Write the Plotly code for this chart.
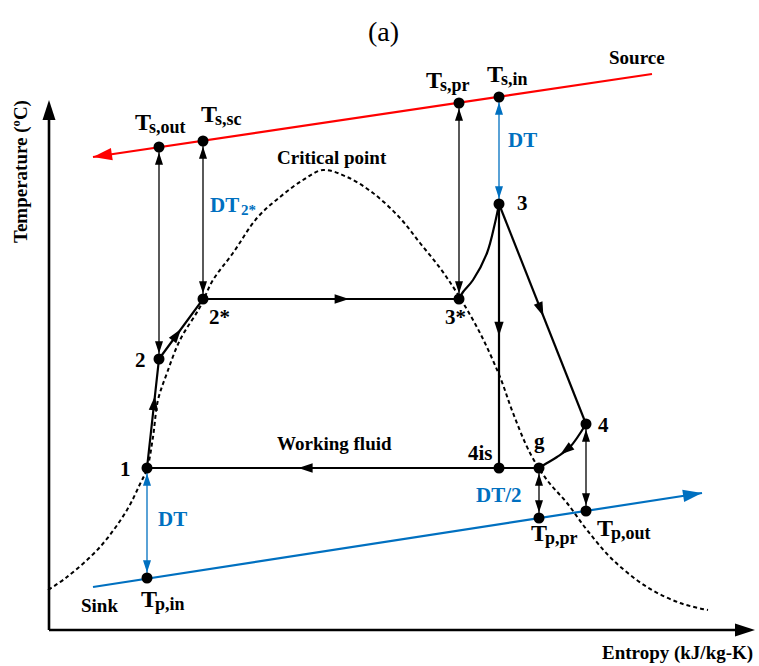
import math
import plotly.graph_objects as go

FONT = "Liberation Serif, Times New Roman, serif"
BLUE = "#0070C0"
RED = "#FF0000"
BLACK = "#000000"

# ---- working-fluid state points (schematic s / T units) ----
state_label = ["1", "2", "2*", "3*", "3", "4", "g", "4is"]
state_s = [147, 159, 203, 459, 499, 586, 539, 499]
state_T = [198, 307, 367, 367, 462, 242, 198, 198]

# ---- heat-source stream, flowing from right to left ----
source_label = ["Ts,out", "Ts,sc", "Ts,pr", "Ts,in"]
source_s = [159, 203, 459, 499]
source_T = [519, 525, 563, 569]
source_line_s = [652, 93]
source_line_T = [592, 509]

# ---- heat-sink stream, flowing from left to right ----
sink_label = ["Tp,in", "Tp,pr", "Tp,out"]
sink_s = [147, 539, 586]
sink_T = [88, 148, 155]
sink_line_s = [93, 702]
sink_line_T = [79, 173]

# ---- saturation dome ----
dome_s = [48, 67, 100, 127, 140, 147, 153, 158, 167, 180, 200, 213, 233, 257,
          280, 303, 323, 347, 373, 400, 420, 440, 457, 480, 500, 513, 530,
          547, 567, 587, 613, 647, 680, 708]
dome_T = [76, 89, 119, 156, 182, 197, 229, 266, 293, 326, 359, 386, 413, 448,
          469, 486, 496, 489, 473, 448, 423, 398, 373, 333, 289, 253, 213,
          186, 163, 136, 106, 79, 63, 56]

# ---- curved process paths ----
superheat_s = [459, 463, 473, 487, 495, 499]      # 3* -> 3
superheat_T = [367, 374, 386, 413, 443, 462]
desuperheat_s = [586, 570, 557, 547, 539]         # 4 -> g
desuperheat_T = [242, 219, 209, 203, 198]

# ---- axes frame ----
axis_origin = (49, 36)
axis_s_end = 755
axis_T_end = 566

st = {n: (s, t) for n, s, t in zip(state_label, state_s, state_T)}
so = {n: (s, t) for n, s, t in zip(source_label, source_s, source_T)}
si = {n: (s, t) for n, s, t in zip(sink_label, sink_s, sink_T)}

fig = go.Figure()


def line(xs, ys, color=BLACK, width=2.2, dash=None, shape="linear"):
    fig.add_trace(go.Scatter(x=xs, y=ys, mode="lines", hoverinfo="skip",
                             line=dict(color=color, width=width, dash=dash,
                                       shape=shape)))


def arrow(tip, direction, color=BLACK, size=15):
    ang = math.degrees(math.atan2(direction[0], direction[1]))
    fig.add_trace(go.Scatter(x=[tip[0]], y=[tip[1]], mode="markers",
                             hoverinfo="skip",
                             marker=dict(symbol="arrow", size=size, angle=ang,
                                         color=color, line=dict(width=0))))


def seg_arrow(a, b, frac, color=BLACK, size=15):
    tip = (a[0] + (b[0] - a[0]) * frac, a[1] + (b[1] - a[1]) * frac)
    arrow(tip, (b[0] - a[0], b[1] - a[1]), color, size)


def double_arrow(a, b, color=BLACK, width=1.3, size=13, gap=5.5):
    line([a[0], b[0]], [a[1], b[1]], color=color, width=width)
    dx, dy = b[0] - a[0], b[1] - a[1]
    n = math.hypot(dx, dy)
    ux, uy = dx / n, dy / n
    arrow((b[0] - ux * gap, b[1] - uy * gap), (ux, uy), color, size)
    arrow((a[0] + ux * gap, a[1] + uy * gap), (-ux, -uy), color, size)


# saturation dome
line(dome_s, dome_T, width=2, dash="4px,3px", shape="spline")

# axes
line([axis_origin[0], axis_s_end - 8], [axis_origin[1], axis_origin[1]], width=2.6)
line([axis_origin[0], axis_origin[0]], [axis_origin[1], axis_T_end - 8], width=2.6)
arrow((axis_s_end, axis_origin[1]), (1, 0), size=21)
arrow((axis_origin[0], axis_T_end), (0, 1), size=21)

# source and sink streams
line(source_line_s, source_line_T, color=RED, width=2.2)
arrow((source_line_s[1], source_line_T[1]),
      (source_line_s[1] - source_line_s[0], source_line_T[1] - source_line_T[0]),
      color=RED, size=20)
line(sink_line_s, sink_line_T, color=BLUE, width=2.2)
arrow((sink_line_s[1], sink_line_T[1]),
      (sink_line_s[1] - sink_line_s[0], sink_line_T[1] - sink_line_T[0]),
      color=BLUE, size=20)

# pinch / temperature-difference connectors
double_arrow(st["2"], so["Ts,out"])
double_arrow(st["2*"], so["Ts,sc"])
double_arrow(st["3*"], so["Ts,pr"])
double_arrow(st["3"], so["Ts,in"], color=BLUE)
double_arrow(st["1"], si["Tp,in"], color=BLUE)
double_arrow(st["g"], si["Tp,pr"])
double_arrow(st["4"], si["Tp,out"])

# working-fluid cycle
line([st["1"][0], st["2"][0], st["2*"][0], st["3*"][0]],
     [st["1"][1], st["2"][1], st["2*"][1], st["3*"][1]])
line(superheat_s, superheat_T, shape="spline")
line([st["3"][0], st["4"][0]], [st["3"][1], st["4"][1]])
line([st["3"][0], st["4is"][0]], [st["3"][1], st["4is"][1]])
line(desuperheat_s, desuperheat_T, shape="spline")
line([st["g"][0], st["1"][0]], [st["g"][1], st["1"][1]])

seg_arrow(st["1"], st["2"], 0.66)
seg_arrow(st["2"], st["2*"], 0.5)
seg_arrow(st["2*"], st["3*"], 0.57)
seg_arrow(st["3"], st["4is"], 0.5)
seg_arrow(st["3"], st["4"], 0.51)
seg_arrow(st["4is"], st["1"], 0.57)
seg_arrow((desuperheat_s[1], desuperheat_T[1]),
          (desuperheat_s[2], desuperheat_T[2]), 0.75)

# state-point dots
fig.add_trace(go.Scatter(
    x=state_s + source_s + sink_s, y=state_T + source_T + sink_T,
    mode="markers", hoverinfo="skip",
    marker=dict(symbol="circle", size=11, color=BLACK, line=dict(width=0))))


def text(t, x, y, size, color=BLACK, xanchor="center", weight="bold", angle=0,
         xshift=0):
    fig.add_annotation(x=x, y=y, xref="x", yref="y", text=t, showarrow=False,
                       xanchor=xanchor, yanchor="middle", textangle=angle,
                       borderpad=0, xshift=xshift,
                       font=dict(family=FONT, size=size, color=color,
                                 weight=weight))


plain_labels = [
    # text, s, T, size, color
    ("1", 125, 197, 21, BLACK),
    ("2", 140, 306, 21, BLACK),
    ("2*", 219, 349, 21, BLACK),
    ("3*", 455, 349, 21, BLACK),
    ("3", 522, 463, 21, BLACK),
    ("4", 603, 241, 21, BLACK),
    ("g", 539, 225, 21, BLACK),
    ("4is", 480, 213, 21, BLACK),
    ("DT", 522, 526, 21, BLUE),
    ("DT", 172, 147, 21, BLUE),
    ("DT/2", 499, 171, 21, BLUE),
    ("Working fluid", 334, 223, 19, BLACK),
    ("Critical point", 332, 509, 19, BLACK),
    ("Source", 637, 609, 19, BLACK),
    ("Sink", 99, 61, 19, BLACK),
    ("Entropy (kJ/kg-K)", 677, 13, 19, BLACK),
]
for t, x, y, size, color in plain_labels:
    text(t, x, y, size, color)

# symbol + subscript labels:
# (main, subscript, split s, T, main size, sub size, colour, main shift, sub shift)
sub_labels = [
    ("T", "s,out", 151, 544, 24, 18, BLACK, 1, -3),
    ("T", "s,sc", 217, 552, 24, 18, BLACK, 1, -3),
    ("T", "s,pr", 442, 586, 24, 18, BLACK, 1, -3),
    ("T", "s,in", 503, 592, 24, 18, BLACK, 1, -3),
    ("T", "p,in", 157, 67, 24, 18, BLACK, 1, -3),
    ("T", "p,pr", 547, 133, 24, 18, BLACK, 1, -3),
    ("T", "p,out", 613, 138, 24, 18, BLACK, 1, -3),
    ("DT", "2*", 240, 461, 21, 15, BLUE, 0, 0),
]
for main, sub, x, y, s_main, s_sub, color, sh_main, sh_sub in sub_labels:
    text(main, x, y, s_main, color, xanchor="right", xshift=sh_main)
    text(sub, x, y - 5, s_sub, color, xanchor="left", xshift=sh_sub)

text("Temperature (ºC)", 21, 494, 19, angle=-90)
text("(a)", 383, 635, 28, weight="normal")

fig.update_layout(
    width=759, height=666, margin=dict(l=0, r=0, t=0, b=0),
    paper_bgcolor="white", plot_bgcolor="white", showlegend=False,
    xaxis=dict(range=[0, 759], visible=False, fixedrange=True),
    yaxis=dict(range=[0, 666], visible=False, fixedrange=True),
)

fig.write_html("out.html")
